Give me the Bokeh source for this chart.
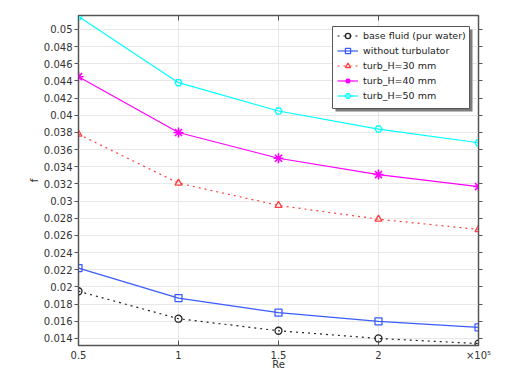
from bokeh.plotting import figure
from bokeh.models import LinearAxis, FixedTicker, Legend, LegendItem, BoxAnnotation, Range1d
from bokeh.embed import file_html
from bokeh.resources import INLINE

re_vals = [0.5, 1.0, 1.5, 2.0, 2.5]
base_fluid = [0.0195, 0.0163, 0.0149, 0.0140, 0.0134]
without_turb = [0.0222, 0.0187, 0.0170, 0.0160, 0.0153]
turb_30 = [0.0378, 0.0321, 0.0295, 0.0279, 0.0267]
turb_40 = [0.0445, 0.0380, 0.0350, 0.0331, 0.0317]
turb_50 = [0.0515, 0.0438, 0.0405, 0.0384, 0.0368]

x_ticks = [0.5, 1.0, 1.5, 2.0, 2.5]
y_ticks = [round(0.014 + 0.002 * i, 3) for i in range(19)]

FONT = "DejaVu Sans"
X0, X1 = 0.5, 2.5
Y0, Y1 = 0.01318, 0.05163
FW, FH = 400, 330

p = figure(width=78 + FW + 24, height=15 + FH + 25, output_backend="svg", toolbar_location=None,
           x_range=Range1d(X0, X1), y_range=Range1d(Y0, Y1),
           min_border_left=78, min_border_right=24, min_border_top=15, min_border_bottom=25)
p.frame_width = FW
p.frame_height = FH
p.outline_line_color = "#555555"
p.outline_line_width = 1.5

p.xaxis.ticker = FixedTicker(ticks=x_ticks)
p.yaxis.ticker = FixedTicker(ticks=y_ticks)
p.xaxis.major_label_overrides = {2.5: "×10⁵", 1.0: "1", 2.0: "2"}
p.yaxis.major_label_overrides = {t: ("%g" % t) for t in y_ticks}
for ax in [p.xaxis[0], p.yaxis[0]]:
    ax.major_label_text_font = FONT
    ax.major_label_text_font_size = "10px"
    ax.major_label_text_color = "#333333"
    ax.axis_label_text_font = FONT
    ax.axis_label_text_font_size = "10px"
    ax.axis_label_text_font_style = "normal"
    ax.axis_label_text_color = "#333333"
    ax.axis_line_color = "#555555"
    ax.major_tick_line_color = "#555555"
    ax.minor_tick_line_color = None
p.xaxis.axis_label = "Re"
p.xaxis.axis_label_standoff = -5
p.xaxis.major_tick_in = 5
p.xaxis.major_tick_out = 0
p.xaxis.major_label_standoff = 4
p.yaxis.axis_label = "f"
p.yaxis.axis_label_standoff = 1
p.yaxis.major_tick_in = 0
p.yaxis.major_tick_out = 4
p.yaxis.major_label_standoff = 2

right = LinearAxis(ticker=FixedTicker(ticks=y_ticks),
                   major_label_overrides={t: "" for t in y_ticks},
                   major_tick_in=0, major_tick_out=4, minor_tick_line_color=None,
                   axis_line_color="#555555", major_tick_line_color="#555555")
top = LinearAxis(ticker=FixedTicker(ticks=x_ticks),
                 major_label_overrides={t: "" for t in x_ticks},
                 major_tick_in=5, major_tick_out=0, minor_tick_line_color=None,
                 axis_line_color="#555555", major_tick_line_color="#555555")
p.add_layout(right, "right")
p.add_layout(top, "above")

p.xgrid.grid_line_color = "#e8e8e8"
p.ygrid.grid_line_color = "#e8e8e8"

series = [
    ("base fluid (pur water)", base_fluid, "#222222", "dotted", "circle"),
    ("without turbulator", without_turb, "#3a5cff", "solid", "square"),
    ("turb_H=30 mm", turb_30, "#ff4040", "dotted", "triangle"),
    ("turb_H=40 mm", turb_40, "#ff00ff", "solid", "asterisk"),
    ("turb_H=50 mm", turb_50, "#00ffff", "solid", "hex"),
]
items = []
for name, ys, col, dash, mk in series:
    r1 = p.line(re_vals, ys, line_color=col, line_dash=dash, line_width=1.2)
    r2 = p.scatter(re_vals, ys, marker=mk, size=7 if mk != "asterisk" else 10,
                   line_color=col, fill_color=None,
                   line_width=1.3 if mk != "asterisk" else 1.6)
    items.append(LegendItem(label=name, renderers=[r1, r2]))

# legend frame + drop shadow (decoration), placed from frame pixel geometry
def px_x(px):
    return X0 + px / FW * (X1 - X0)

def px_y(py):
    return Y1 - py / FH * (Y1 - Y0)

LL, LR, LT, LB = 254, 391, 11, 93
shadow = BoxAnnotation(left=px_x(LL + 3), right=px_x(LR + 3), top=px_y(LT + 3), bottom=px_y(LB + 3),
                       fill_color="#666666", fill_alpha=0.85, line_color=None)
box = BoxAnnotation(left=px_x(LL), right=px_x(LR), top=px_y(LT), bottom=px_y(LB),
                    fill_color="white", fill_alpha=1, line_color="#555555", line_width=1, line_alpha=1)
p.add_layout(shadow)
p.add_layout(box)

legend = Legend(items=items, location=(LL + 5, FH - LB + 6), margin=0,
                label_text_font=FONT, label_text_font_size="9.5px", label_text_color="#222222",
                label_height=13, glyph_height=13, glyph_width=21, label_standoff=5,
                spacing=2, padding=5,
                border_line_color=None, background_fill_alpha=0)
p.add_layout(legend)

open("out.html", "w").write(file_html(p, INLINE))
